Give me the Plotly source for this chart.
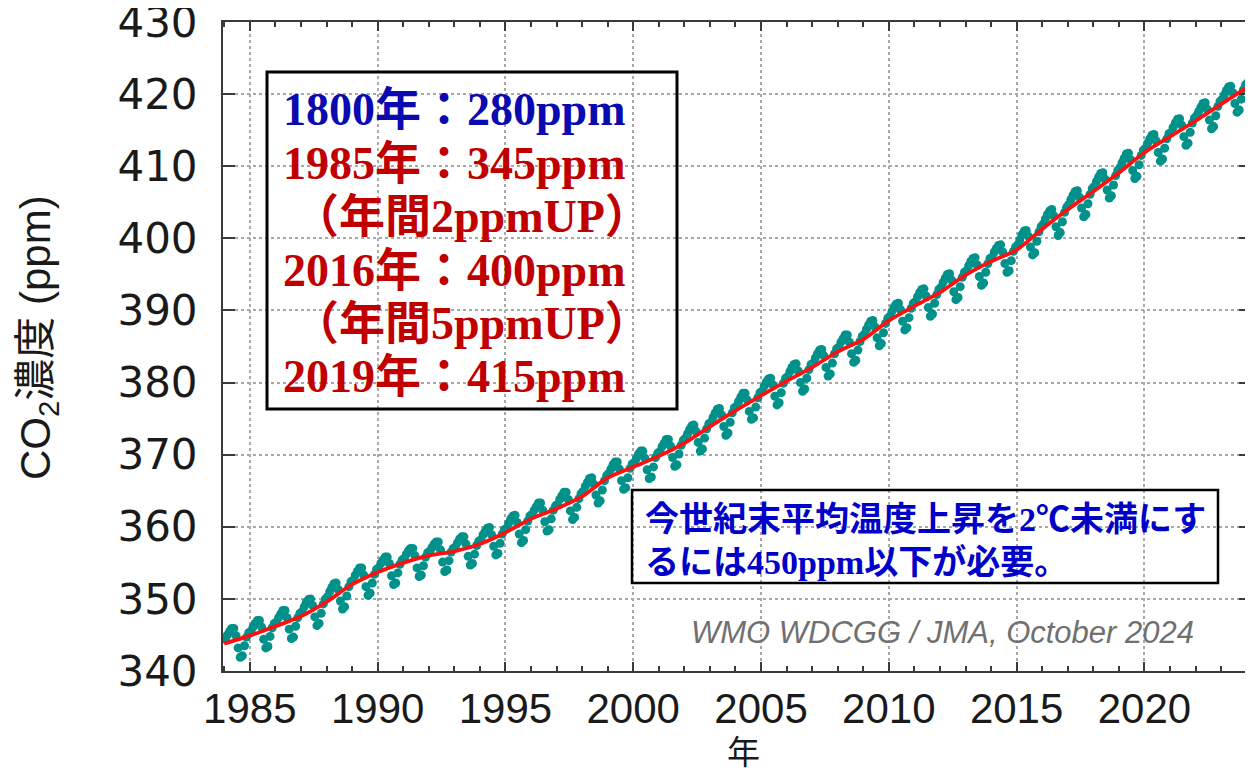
import plotly.graph_objects as go

# ---------------- data ----------------
years = list(range(1984, 2025))
# monthly global-mean CO2 (ppm), Jan..Dec for each year
monthly_co2 = [
    [344.4, 345.0, 345.5, 345.9, 345.9, 344.9, 343.2, 341.9, 342.1, 343.5, 344.7, 345.3],  # 1984
    [345.5, 346.1, 346.6, 347.0, 347.0, 346.1, 344.4, 343.2, 343.4, 344.8, 346.0, 346.6],  # 1985
    [346.8, 347.4, 347.9, 348.4, 348.4, 347.4, 345.8, 344.5, 344.7, 346.2, 347.4, 348.0],  # 1986
    [348.2, 348.9, 349.5, 349.9, 350.0, 349.1, 347.5, 346.3, 346.6, 348.0, 349.3, 350.0],  # 1987
    [350.3, 351.0, 351.6, 352.1, 352.2, 351.3, 349.7, 348.6, 348.9, 350.4, 351.7, 352.4],  # 1988
    [352.6, 353.3, 353.8, 354.3, 354.3, 353.3, 351.7, 350.5, 350.8, 352.2, 353.4, 354.1],  # 1989
    [354.3, 354.9, 355.4, 355.8, 355.8, 354.9, 353.2, 352.0, 352.2, 353.6, 354.8, 355.4],  # 1990
    [355.6, 356.2, 356.7, 357.0, 357.0, 356.0, 354.3, 353.1, 353.3, 354.6, 355.8, 356.4],  # 1991
    [356.6, 357.1, 357.6, 357.9, 357.9, 356.8, 355.1, 353.8, 354.0, 355.3, 356.5, 357.0],  # 1992
    [357.2, 357.8, 358.3, 358.6, 358.6, 357.6, 355.9, 354.7, 354.9, 356.2, 357.4, 358.0],  # 1993
    [358.2, 358.9, 359.4, 359.8, 359.9, 358.9, 357.3, 356.1, 356.3, 357.7, 359.0, 359.6],  # 1994
    [359.8, 360.5, 361.1, 361.5, 361.6, 360.6, 359.0, 357.8, 358.1, 359.6, 360.8, 361.5],  # 1995
    [361.7, 362.3, 362.8, 363.3, 363.3, 362.3, 360.7, 359.4, 359.6, 361.1, 362.3, 362.9],  # 1996
    [363.1, 363.8, 364.3, 364.8, 364.8, 363.8, 362.2, 361.0, 361.3, 362.7, 363.9, 364.6],  # 1997
    [364.9, 365.6, 366.2, 366.7, 366.8, 365.9, 364.4, 363.3, 363.6, 365.1, 366.4, 367.1],  # 1998
    [367.4, 368.0, 368.6, 369.0, 369.0, 368.0, 366.4, 365.2, 365.4, 366.8, 368.1, 368.7],  # 1999
    [368.9, 369.5, 370.1, 370.5, 370.5, 369.5, 367.9, 366.7, 366.9, 368.3, 369.6, 370.2],  # 2000
    [370.4, 371.1, 371.6, 372.1, 372.1, 371.2, 369.6, 368.4, 368.6, 370.1, 371.3, 372.0],  # 2001
    [372.3, 372.9, 373.5, 374.0, 374.1, 373.2, 371.7, 370.5, 370.8, 372.3, 373.6, 374.3],  # 2002
    [374.5, 375.2, 375.8, 376.3, 376.4, 375.5, 373.9, 372.7, 373.0, 374.5, 375.8, 376.5],  # 2003
    [376.7, 377.4, 378.0, 378.5, 378.5, 377.6, 376.0, 374.9, 375.1, 376.6, 377.9, 378.6],  # 2004
    [378.8, 379.5, 380.1, 380.5, 380.6, 379.7, 378.1, 376.9, 377.2, 378.6, 379.9, 380.6],  # 2005
    [380.8, 381.5, 382.1, 382.5, 382.6, 381.6, 380.0, 378.8, 379.1, 380.6, 381.8, 382.5],  # 2006
    [382.7, 383.4, 384.0, 384.5, 384.6, 383.7, 382.1, 380.9, 381.2, 382.7, 384.0, 384.7],  # 2007
    [384.9, 385.6, 386.1, 386.6, 386.6, 385.6, 384.0, 382.8, 383.1, 384.5, 385.7, 386.4],  # 2008
    [386.7, 387.4, 388.0, 388.5, 388.6, 387.7, 386.2, 385.1, 385.4, 386.9, 388.2, 388.9],  # 2009
    [389.2, 389.9, 390.5, 390.9, 391.0, 390.1, 388.5, 387.3, 387.6, 389.0, 390.3, 391.0],  # 2010
    [391.2, 391.9, 392.5, 392.9, 393.0, 392.0, 390.4, 389.2, 389.5, 391.0, 392.2, 392.9],  # 2011
    [393.2, 393.9, 394.5, 395.0, 395.1, 394.2, 392.6, 391.5, 391.8, 393.3, 394.6, 395.3],  # 2012
    [395.5, 396.2, 396.8, 397.2, 397.3, 396.3, 394.7, 393.5, 393.8, 395.3, 396.5, 397.2],  # 2013
    [397.4, 398.1, 398.6, 399.0, 399.1, 398.1, 396.5, 395.3, 395.5, 396.9, 398.2, 398.8],  # 2014
    [399.1, 399.8, 400.5, 401.0, 401.1, 400.3, 398.8, 397.7, 398.0, 399.6, 400.9, 401.6],  # 2015
    [402.0, 402.7, 403.3, 403.8, 404.0, 403.1, 401.6, 400.4, 400.8, 402.3, 403.6, 404.3],  # 2016
    [404.7, 405.4, 406.0, 406.5, 406.6, 405.7, 404.2, 403.0, 403.3, 404.8, 406.1, 406.9],  # 2017
    [407.2, 407.9, 408.5, 409.0, 409.1, 408.2, 406.7, 405.6, 405.9, 407.4, 408.7, 409.4],  # 2018
    [409.8, 410.5, 411.1, 411.7, 411.8, 410.9, 409.4, 408.3, 408.6, 410.2, 411.5, 412.2],  # 2019
    [412.5, 413.2, 413.8, 414.3, 414.4, 413.5, 411.9, 410.7, 411.0, 412.5, 413.8, 414.5],  # 2020
    [414.7, 415.4, 416.0, 416.5, 416.6, 415.7, 414.1, 412.9, 413.2, 414.7, 416.0, 416.7],  # 2021
    [417.0, 417.6, 418.2, 418.7, 418.8, 417.9, 416.4, 415.2, 415.5, 417.0, 418.3, 419.0],  # 2022
    [419.3, 419.9, 420.5, 421.0, 421.1, 420.2, 418.7, 417.5, 417.8, 419.3, 420.6, 421.3],  # 2023
    [421.6, 422.2],                                                                        # 2024
]

# deseasonalised trend (ppm) at the start of each year
trend_years = list(range(1984, 2025))
trend_co2 = [343.8, 344.9, 346.2, 347.6, 349.6, 352.0, 353.7, 355.0, 356.0, 356.6,
             357.6, 359.2, 361.1, 362.5, 364.2, 366.8, 368.3, 369.8, 371.6, 373.9,
             376.1, 378.2, 380.2, 382.1, 384.3, 386.0, 388.6, 390.6, 392.5, 394.9,
             396.8, 398.4, 401.3, 404.0, 406.5, 409.1, 411.9, 414.1, 416.3, 418.6,
             420.9]

x_ticks = [1985, 1990, 1995, 2000, 2005, 2010, 2015, 2020]
y_ticks = [340, 350, 360, 370, 380, 390, 400, 410, 420, 430]

box1_lines = ["1800年：280ppm", "1985年：345ppm", "（年間2ppmUP）",
              "2016年：400ppm", "（年間5ppmUP）", "2019年：415ppm"]
box1_colors = ["#0a0ab0", "#c00000", "#c00000", "#c00000", "#c00000", "#c00000"]
box2_lines = ["今世紀末平均温度上昇を2℃未満にす", "るには450ppm以下が必要。"]
credit = "WMO WDCGG / JMA, October 2024"

# ---------------- figure ----------------
# the page body adds an 8 px offset, so the figure is 8 px smaller than the window
OFF = 8
W, H = 1253 - OFF, 773 - OFF
ML, MR, MT, MB = 215, 2, 14, 102
PW, PH = W - ML - MR, H - MT - MB


def px(xpage):
    """page pixel x -> paper coordinate"""
    return (xpage - OFF - ML) / PW


def py(ypage):
    """page pixel y -> paper coordinate"""
    return (H - MB - (ypage - OFF)) / PH


mx, my = [], []
for yr, vals in zip(years, monthly_co2):
    for i, v in enumerate(vals):
        mx.append(yr + (i + 0.5) / 12)
        my.append(v)

fig = go.Figure()
fig.add_trace(go.Scatter(
    x=mx, y=my, mode="markers",
    marker=dict(size=9, color="#00918b", line=dict(width=0)),
    hoverinfo="skip", showlegend=False))
fig.add_trace(go.Scatter(
    x=trend_years, y=trend_co2, mode="lines",
    line=dict(color="#ff1010", width=3.8, shape="spline", smoothing=0.8),
    hoverinfo="skip", showlegend=False))

axis_common = dict(
    showline=True, linecolor="#3a3a3a", linewidth=2, mirror="allticks",
    ticks="inside", tickcolor="#3a3a3a", tickwidth=2,
    showgrid=True, gridcolor="#a8a8a8", griddash="dot", gridwidth=1.5,
    zeroline=False, ticklabeloverflow="allow",
)

fig.update_xaxes(
    range=[1983.95, 2024.17], tickvals=x_ticks, ticktext=[str(v) for v in x_ticks],
    ticklen=9, ticklabelstandoff=0,
    tickfont=dict(family="Liberation Sans, Arial, sans-serif", size=42, color="#1a1a1a"),
    minor=dict(dtick=1, tick0=1984, ticks="inside", ticklen=5, tickcolor="#3a3a3a",
               tickwidth=1.5, showgrid=False),
    **axis_common)
fig.update_yaxes(
    range=[340, 430], tickvals=y_ticks, ticktext=[str(v) for v in y_ticks],
    ticklen=12, ticklabelstandoff=15,
    tickfont=dict(family="DejaVu Sans, sans-serif", size=42, color="#1a1a1a"),
    **axis_common)

annotations = []
# axis titles
annotations.append(dict(
    text="CO<sub>2</sub>濃度 (ppm)", xref="paper", yref="paper", x=px(38), y=py(338),
    textangle=-90, showarrow=False, xanchor="center", yanchor="middle",
    font=dict(family="Liberation Sans, Noto Sans CJK JP, sans-serif", size=42, color="#1a1a1a")))
annotations.append(dict(
    text="年", xref="paper", yref="paper", x=px(743), y=py(750), showarrow=False,
    xanchor="center", yanchor="middle",
    font=dict(family="Noto Sans CJK JP, sans-serif", size=33, color="#1a1a1a")))

# box 1 text lines
line_centers = [110, 163, 217, 270, 323, 376]
line_left = [281, 281, 291, 281, 291, 281]
for t, c, yc, xl in zip(box1_lines, box1_colors, line_centers, line_left):
    annotations.append(dict(
        text=t, xref="paper", yref="paper", x=px(xl), y=py(yc), showarrow=False,
        xanchor="left", yanchor="middle",
        font=dict(family="Liberation Serif, Noto Sans CJK JP, serif", size=46,
                  color=c, weight="bold")))

# box 2 text lines
for t, yc in zip(box2_lines, [519, 562]):
    annotations.append(dict(
        text=t, xref="paper", yref="paper", x=px(643), y=py(yc), showarrow=False,
        xanchor="left", yanchor="middle",
        font=dict(family="Liberation Serif, Noto Sans CJK JP, serif", size=34,
                  color="#0000c8", weight="bold")))

# credit
annotations.append(dict(
    text=credit, xref="paper", yref="paper", x=px(942), y=py(632), showarrow=False,
    xanchor="center", yanchor="middle",
    font=dict(family="Liberation Sans, Arial, sans-serif", size=31, color="#707070",
              style="italic")))

shapes = [
    dict(type="rect", xref="paper", yref="paper", x0=px(267), x1=px(677), y0=py(72), y1=py(409),
         line=dict(color="black", width=3), fillcolor="rgba(0,0,0,0)", layer="above"),
    dict(type="rect", xref="paper", yref="paper", x0=px(632), x1=px(1218), y0=py(490), y1=py(583),
         line=dict(color="black", width=2.5), fillcolor="rgba(0,0,0,0)", layer="above"),
]

fig.update_layout(
    width=W, height=H, margin=dict(l=ML, r=MR, t=MT, b=MB, autoexpand=False),
    paper_bgcolor="white", plot_bgcolor="white", showlegend=False,
    annotations=annotations, shapes=shapes,
)

fig.write_html("out.html")
